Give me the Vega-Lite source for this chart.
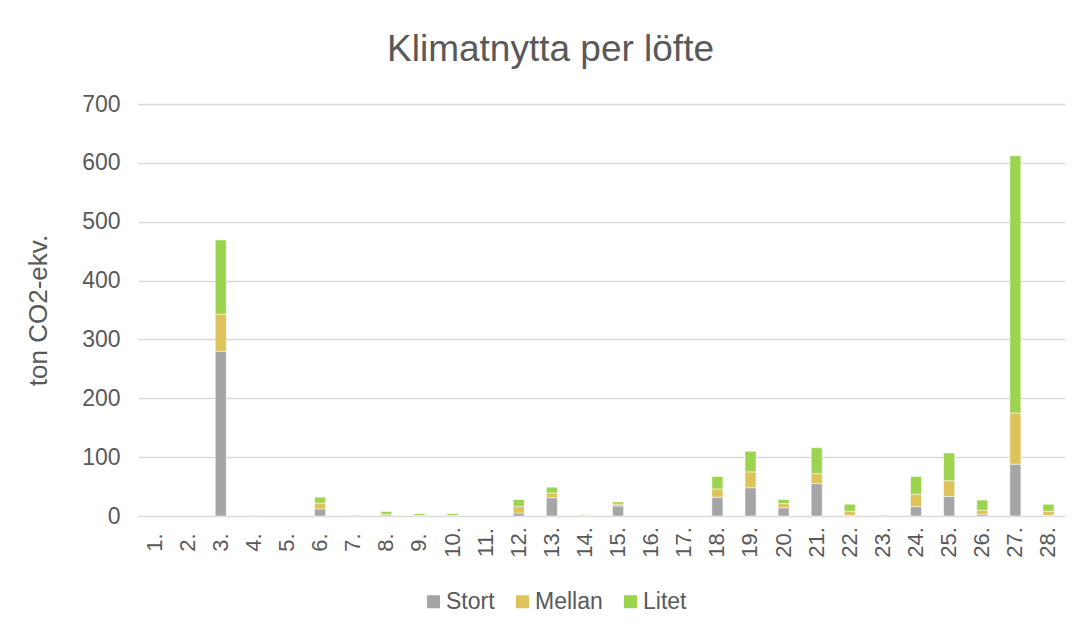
{
  "$schema": "https://vega.github.io/schema/vega-lite/v6.json",
  "width": 927,
  "height": 412,
  "autosize": {"type": "none"},
  "padding": {"left": 138, "top": 104, "right": 14, "bottom": 113},
  "background": "white",
  "title": {
    "text": "Klimatnytta per löfte",
    "fontSize": 37,
    "font": "Liberation Sans",
    "fontWeight": "normal",
    "color": "#595959",
    "anchor": "middle",
    "dx": -51,
    "offset": 24
  },
  "data": {
    "values": [
      {"lofte": "1.", "Stort": 0, "Mellan": 0, "Litet": 0},
      {"lofte": "2.", "Stort": 0, "Mellan": 0, "Litet": 0},
      {"lofte": "3.", "Stort": 280, "Mellan": 63, "Litet": 126},
      {"lofte": "4.", "Stort": 0, "Mellan": 1, "Litet": 0},
      {"lofte": "5.", "Stort": 0, "Mellan": 0, "Litet": 0},
      {"lofte": "6.", "Stort": 12, "Mellan": 10, "Litet": 10},
      {"lofte": "7.", "Stort": 0, "Mellan": 0, "Litet": 1},
      {"lofte": "8.", "Stort": 0, "Mellan": 3, "Litet": 4.5},
      {"lofte": "9.", "Stort": 0, "Mellan": 1, "Litet": 3},
      {"lofte": "10.", "Stort": 0, "Mellan": 1, "Litet": 3},
      {"lofte": "11.", "Stort": 0, "Mellan": 0, "Litet": 0},
      {"lofte": "12.", "Stort": 5, "Mellan": 11, "Litet": 12},
      {"lofte": "13.", "Stort": 31, "Mellan": 8, "Litet": 10},
      {"lofte": "14.", "Stort": 0, "Mellan": 1, "Litet": 1},
      {"lofte": "15.", "Stort": 17, "Mellan": 3, "Litet": 4},
      {"lofte": "16.", "Stort": 0, "Mellan": 0, "Litet": 0},
      {"lofte": "17.", "Stort": 0, "Mellan": 0, "Litet": 0},
      {"lofte": "18.", "Stort": 32, "Mellan": 14, "Litet": 21},
      {"lofte": "19.", "Stort": 48, "Mellan": 27, "Litet": 35},
      {"lofte": "20.", "Stort": 14, "Mellan": 7, "Litet": 7},
      {"lofte": "21.", "Stort": 55, "Mellan": 17, "Litet": 44},
      {"lofte": "22.", "Stort": 1, "Mellan": 7, "Litet": 12},
      {"lofte": "23.", "Stort": 0, "Mellan": 0, "Litet": 1},
      {"lofte": "24.", "Stort": 16, "Mellan": 21, "Litet": 30},
      {"lofte": "25.", "Stort": 33, "Mellan": 27, "Litet": 47},
      {"lofte": "26.", "Stort": 3, "Mellan": 7, "Litet": 17},
      {"lofte": "27.", "Stort": 88, "Mellan": 87, "Litet": 437},
      {"lofte": "28.", "Stort": 1, "Mellan": 7, "Litet": 12}
    ]
  },
  "transform": [
    {"fold": ["Stort", "Mellan", "Litet"], "as": ["storlek", "varde"]},
    {"filter": "datum.varde > 0"}
  ],
  "mark": {"type": "bar", "stroke": "white", "strokeWidth": 0.5},
  "encoding": {
    "x": {
      "field": "lofte",
      "type": "ordinal",
      "scale": {
        "domain": ["1.", "2.", "3.", "4.", "5.", "6.", "7.", "8.", "9.", "10.", "11.", "12.", "13.", "14.", "15.", "16.", "17.", "18.", "19.", "20.", "21.", "22.", "23.", "24.", "25.", "26.", "27.", "28."],
        "paddingInner": 0.667,
        "paddingOuter": 0.333
      },
      "axis": {
        "title": null,
        "labelAngle": -90,
        "labelAlign": "center",
        "labelBaseline": "middle",
        "labelPadding": 26,
        "labelFontSize": 22,
        "labelFont": "Liberation Sans",
        "labelColor": "#595959",
        "ticks": false,
        "domain": false,
        "grid": false
      }
    },
    "y": {
      "field": "varde",
      "type": "quantitative",
      "stack": "zero",
      "scale": {"domain": [0, 700], "nice": false},
      "axis": {
        "title": "ton CO2-ekv.",
        "titleFontSize": 26,
        "titleFont": "Liberation Sans",
        "titleFontWeight": "normal",
        "titleColor": "#595959",
        "titlePadding": 30,
        "values": [0, 100, 200, 300, 400, 500, 600, 700],
        "labelFontSize": 23,
        "labelFont": "Liberation Sans",
        "labelColor": "#595959",
        "labelPadding": 18,
        "ticks": false,
        "domain": false,
        "grid": true,
        "gridColor": "#d9d9d9",
        "gridWidth": 1.3
      }
    },
    "color": {
      "field": "storlek",
      "type": "nominal",
      "scale": {
        "domain": ["Stort", "Mellan", "Litet"],
        "range": ["#a5a5a5", "#ddc35a", "#9dd44f"]
      },
      "legend": {
        "title": null,
        "orient": "none",
        "direction": "horizontal",
        "legendX": 284,
        "legendY": 486,
        "symbolType": "square",
        "symbolSize": 169,
        "symbolStrokeWidth": 0,
        "labelFontSize": 23,
        "labelFont": "Liberation Sans",
        "labelColor": "#595959",
        "labelOffset": 1,
        "columnPadding": 16
      }
    },
    "order": {"field": "storlek", "sort": "descending"}
  },
  "config": {"view": {"stroke": null}}
}
